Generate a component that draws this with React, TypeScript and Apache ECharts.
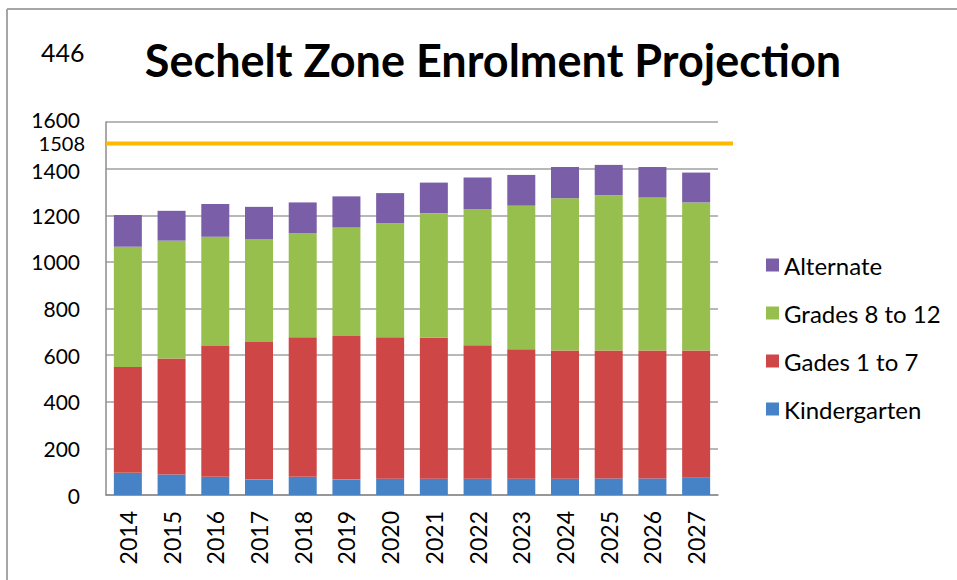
import React, { useEffect, useRef } from "react";
import * as echarts from "echarts";

const years = ["2014", "2015", "2016", "2017", "2018", "2019", "2020", "2021", "2022", "2023", "2024", "2025", "2026", "2027"];
const kindergarten = [95, 88, 78, 66, 78, 66, 70, 70, 70, 70, 70, 71, 71, 74];
const grades1to7 = [454, 497, 561, 590, 599, 616, 607, 605, 572, 555, 550, 549, 549, 546];
const grades8to12 = [516, 506, 469, 442, 445, 466, 488, 534, 584, 616, 653, 666, 656, 635];
const alternate = [136, 128, 140, 138, 133, 133, 130, 131, 136, 132, 134, 130, 131, 128];
const capacity = 1508;
const cornerNote = "446";
const yTicks = [0, 200, 400, 600, 800, 1000, 1200, 1400, 1600];

const FONT = "Lato, 'Open Sans', sans-serif";

export default function App() {
  const ref = useRef<HTMLDivElement>(null);
  useEffect(() => {
    if (!ref.current) return;
    const chart = echarts.init(ref.current, null, { renderer: "svg" });
    const barBase = {
      type: "bar",
      stack: "total",
      barWidth: 28,
      xAxisIndex: 0,
      yAxisIndex: 0,
    };
    const lbl = { fontSize: 21, fontFamily: FONT, color: "#000" };
    chart.setOption({
      animation: false,
      backgroundColor: "#ffffff",
      textStyle: { fontFamily: FONT },
      title: [
        {
          text: "Sechelt Zone Enrolment Projection",
          left: 488,
          textAlign: "center",
          top: 32,
          textStyle: { fontFamily: FONT, fontSize: 45, fontWeight: "bold", color: "#000" },
        },
        {
          text: cornerNote,
          left: 36,
          top: 34,
          textStyle: { fontFamily: FONT, fontSize: 25, fontWeight: "normal", color: "#000" },
        },
      ],
      graphic: [
        { type: "line", shape: { x1: 7, y1: 9, x2: 957, y2: 9 }, style: { stroke: "#a6a6a6", lineWidth: 2 } },
        { type: "line", shape: { x1: 7, y1: 9, x2: 7, y2: 580 }, style: { stroke: "#a6a6a6", lineWidth: 2 } },
      ],
      legend: {
        orient: "vertical",
        left: 761,
        top: 248,
        itemWidth: 13,
        itemHeight: 13,
        itemGap: 24,
        icon: "rect",
        data: ["Alternate", "Grades 8 to 12", "Gades 1 to 7", "Kindergarten"],
        textStyle: { fontFamily: FONT, fontSize: 24, color: "#000", lineHeight: 24 },
      },
      grid: [
        { left: 106, right: 239, top: 122, bottom: 85 },
        { left: 106, right: 224, top: 122, bottom: 85 },
      ],
      xAxis: [
        {
          type: "category",
          gridIndex: 0,
          data: years,
          axisLine: { lineStyle: { color: "#8c8c8c", width: 1.5 } },
          axisTick: { show: false },
          axisLabel: { rotate: 90, fontSize: 23, color: "#000", margin: 16, fontFamily: FONT },
        },
        { type: "value", gridIndex: 1, min: 0, max: 1, show: false },
      ],
      yAxis: [
        {
          type: "value",
          gridIndex: 0,
          min: 0,
          max: 1600,
          interval: 200,
          axisLine: { show: true, lineStyle: { color: "#8c8c8c", width: 1.5 } },
          axisTick: { show: false },
          axisLabel: {
            ...lbl,
            margin: 26,
            customValues: yTicks,
            formatter: (v: number) =>
              v === 1600 ? `{up|${v}}` : v === 1400 ? `{dn|${v}}` : String(v),
            rich: {
              up: { ...lbl, padding: [0, 0, 6, 0] },
              dn: { ...lbl, padding: [4, 0, 0, 0] },
            },
          },
          splitLine: { lineStyle: { color: "#a0a0a0", width: 1.5 } },
        },
        {
          type: "value",
          gridIndex: 1,
          min: 0,
          max: 1600,
          axisLine: { show: false },
          axisTick: { show: false },
          splitLine: { show: false },
          axisLabel: {
            fontSize: 20,
            color: "#000",
            margin: 21,
            fontFamily: FONT,
            customValues: [capacity],
            formatter: (v: number) => String(v),
          },
        },
      ],
      series: [
        { ...barBase, name: "Kindergarten", data: kindergarten, itemStyle: { color: "#4683c6" } },
        { ...barBase, name: "Gades 1 to 7", data: grades1to7, itemStyle: { color: "#cf4646" } },
        { ...barBase, name: "Grades 8 to 12", data: grades8to12, itemStyle: { color: "#97bf4e" } },
        { ...barBase, name: "Alternate", data: alternate, itemStyle: { color: "#7a5ea8" } },
        {
          type: "line",
          name: "Capacity",
          xAxisIndex: 1,
          yAxisIndex: 1,
          data: [
            [0, capacity],
            [1, capacity],
          ],
          symbol: "none",
          lineStyle: { color: "#ffb700", width: 4 },
        },
      ],
    });
    return () => chart.dispose();
  }, []);
  return (
    <div style={{ position: "fixed", left: 0, top: 0, width: 957, height: 580 }}>
      <div ref={ref} style={{ width: 957, height: 580 }} />
    </div>
  );
}
